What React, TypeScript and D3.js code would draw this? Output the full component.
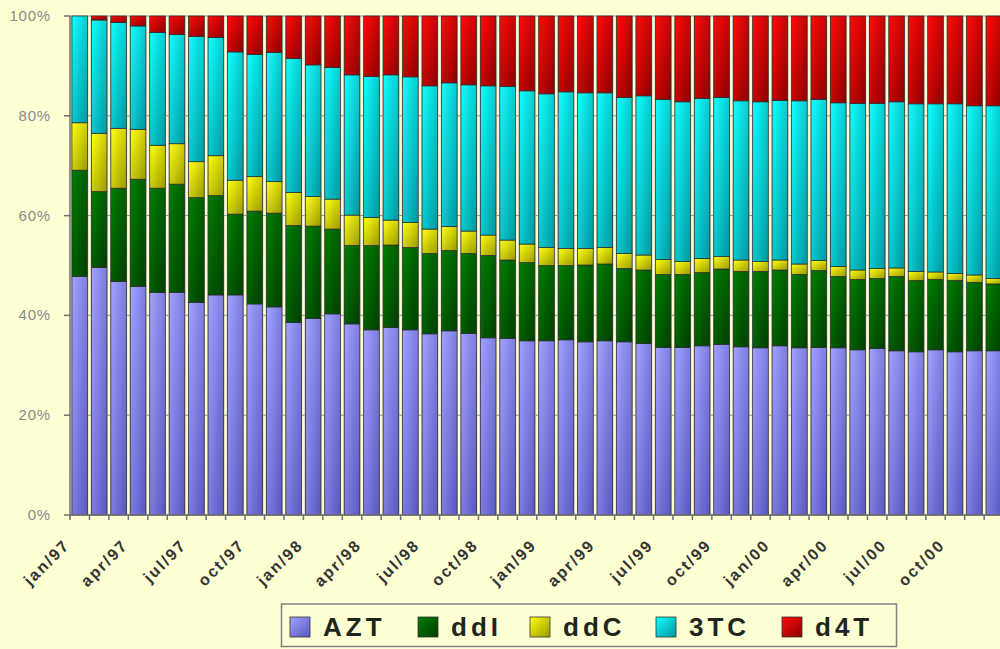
import React from "react";
import * as d3 from "d3";

const monthNames = ["jan","feb","mar","apr","may","jun","jul","aug","sep","oct","nov","dec"];
const years = ["97","98","99","00"];
const categories: string[] = years.flatMap((y) => monthNames.map((m) => `${m}/${y}`));
const shownLabels = ["jan","apr","jul","oct"];

const seriesNames = ["AZT", "ddI", "ddC", "3TC", "d4T"];

const AZT = [47.8,49.6,46.8,45.8,44.6,44.6,42.6,44.1,44.1,42.3,41.7,38.6,39.4,40.3,38.3,37.1,37.6,37.1,36.3,36.9,36.4,35.5,35.4,34.9,34.9,35.1,34.7,34.9,34.7,34.4,33.6,33.6,33.9,34.2,33.7,33.5,33.9,33.5,33.6,33.5,33.1,33.4,32.9,32.7,33.1,32.7,32.9,32.9];
const ddI = [21.3,15.2,18.7,21.5,20.9,21.7,21.0,19.9,16.2,18.6,18.8,19.4,18.5,17.0,15.7,16.9,16.5,16.5,16.1,16.1,16.0,16.5,15.7,15.7,15.1,14.9,15.4,15.4,14.7,14.7,14.6,14.6,14.7,15.1,15.1,15.3,15.2,14.7,15.4,14.3,14.1,14.0,14.9,14.3,14.1,14.3,13.7,13.4];
const ddC = [9.5,11.7,12.0,10.0,8.6,8.1,7.2,8.0,6.8,6.9,6.3,6.6,5.9,6.0,6.1,5.6,5.0,5.0,4.9,4.8,4.5,4.1,4.0,3.7,3.6,3.4,3.3,3.3,3.0,3.0,3.0,2.6,2.8,2.5,2.3,2.0,2.0,2.1,2.0,2.0,1.9,2.0,1.7,1.8,1.5,1.4,1.5,1.1];
const TC3 = [21.4,22.7,21.2,20.7,22.6,21.9,25.1,23.7,25.7,24.5,25.9,26.9,26.4,26.4,28.1,28.3,29.1,29.2,28.7,28.8,29.3,29.9,30.8,30.7,30.8,31.4,31.2,31.0,31.3,31.9,32.1,32.0,32.1,31.9,31.9,32.0,32.0,32.7,32.3,32.8,33.4,33.1,33.3,33.6,33.7,34.0,33.9,34.6];
const d4T = [0.0,0.8,1.3,2.0,3.3,3.7,4.1,4.3,7.2,7.7,7.3,8.5,9.8,10.3,11.8,12.1,11.8,12.2,14.0,13.4,13.8,14.0,14.1,15.0,15.6,15.2,15.4,15.4,16.3,16.0,16.7,17.2,16.5,16.3,17.0,17.2,16.9,17.0,16.7,17.4,17.5,17.5,17.2,17.6,17.6,17.6,18.0,18.0];

const yTicks = [0, 20, 40, 60, 80, 100];

const seriesValues = [AZT, ddI, ddC, TC3, d4T];
const gradients = [
  ["#a2a2ff", "#5858c0"],
  ["#007e00", "#003e00"],
  ["#ffff10", "#9a9a00"],
  ["#10ffff", "#0096a0"],
  ["#ff0a0a", "#8c0000"],
];

const BG = "#ffffd4";

export default function App() {
  const width = 1000;
  const height = 649;
  const x0 = 70;
  const step = 19.45;
  const x1 = x0 + step * categories.length;
  const x = d3.scaleBand<string>().domain(categories).range([x0, x1]).paddingInner(0.2).paddingOuter(0.1);
  const y = d3.scaleLinear().domain([0, 100]).range([515, 16]);

  const rows = categories.map((c, i) => {
    const r: any = { cat: c };
    seriesNames.forEach((s, k) => (r[s] = seriesValues[k][i]));
    return r;
  });
  const stacked = d3.stack().keys(seriesNames).offset(d3.stackOffsetExpand)(rows as any);

  const bw = x.bandwidth();
  const boundaries = d3.range(categories.length + 1).map((i) => x0 + i * x.step());

  const legendX = [290, 418, 530, 656, 782];

  return (
    <svg width={width} height={height} style={{ position: "absolute", left: 0, top: 0, background: BG }}>
      <defs>
        {gradients.map((g, k) => (
          <linearGradient key={k} id={`g${k}`} x1="0" y1="0" x2="1" y2="1">
            <stop offset="0" stopColor={g[0]} />
            <stop offset="1" stopColor={g[1]} />
          </linearGradient>
        ))}
      </defs>
      <rect x={0} y={0} width={width} height={height} fill={BG} />
      {yTicks.map((t) => (
        <line key={t} x1={x0} x2={x1} y1={y(t)} y2={y(t)} stroke="#8c8c8c" strokeWidth={1} />
      ))}
      {categories.map((c) => (
        <rect key={c} x={(x(c) as number) - 0.8} y={y(100)} width={bw + 1.6} height={y(0) - y(100)} fill="#bcbcb2" />
      ))}
      {stacked.map((layer, k) => (
        <g key={k}>
          {layer.map((d, i) => {
            const top = y(d[1] * 100);
            const bot = y(d[0] * 100);
            if (bot - top < 0.01) return null;
            return (
              <rect
                key={i}
                x={x(categories[i])}
                y={top}
                width={bw}
                height={bot - top}
                fill={`url(#g${k})`}
                stroke="#2a2a2a"
                strokeWidth={0.7}
              />
            );
          })}
        </g>
      ))}
      <line x1={x0} x2={x0} y1={y(100)} y2={y(0)} stroke="#707070" strokeWidth={1.5} />
      <line x1={x0} x2={x1} y1={y(0)} y2={y(0)} stroke="#707070" strokeWidth={1.5} />
      {yTicks.map((t) => (
        <g key={t}>
          <line x1={x0 - 6} x2={x0} y1={y(t)} y2={y(t)} stroke="#707070" strokeWidth={1.5} />
          <text x={51} y={y(t) + 5} textAnchor="end" fontFamily="Arial, 'Liberation Sans', sans-serif" fontSize={15} fill="#8a8a8a" letterSpacing={0.8}>
            {t}%
          </text>
        </g>
      ))}
      {boundaries.map((bx, i) => (
        <line key={i} x1={bx} x2={bx} y1={y(0)} y2={y(0) + 5} stroke="#707070" strokeWidth={1.5} />
      ))}
      {categories.map((c, i) => {
        if (!shownLabels.includes(c.split("/")[0])) return null;
        const cx = (x(c) as number) + bw / 2;
        return (
          <text
            key={c}
            transform={`translate(${cx - 9},${546}) rotate(-45)`}
            textAnchor="end"
            fontFamily="Arial, 'Liberation Sans', sans-serif"
            fontWeight="bold"
            fontSize={16}
            letterSpacing={2}
            fill="#333333"
          >
            {c}
          </text>
        );
      })}
      <rect x={281.5} y={604} width={615} height={42.5} fill={BG} stroke="#808080" strokeWidth={1.5} />
      {seriesNames.map((s, k) => (
        <g key={s}>
          <rect x={legendX[k]} y={617} width={20} height={20} fill={`url(#g${k})`} stroke="#333" strokeWidth={0.8} />
          <text
            x={legendX[k] + 33}
            y={636}
            fontFamily="Arial, 'Liberation Sans', sans-serif"
            fontWeight="bold"
            fontSize={26}
            letterSpacing={4}
            fill="#1e261e"
          >
            {s}
          </text>
        </g>
      ))}
    </svg>
  );
}
